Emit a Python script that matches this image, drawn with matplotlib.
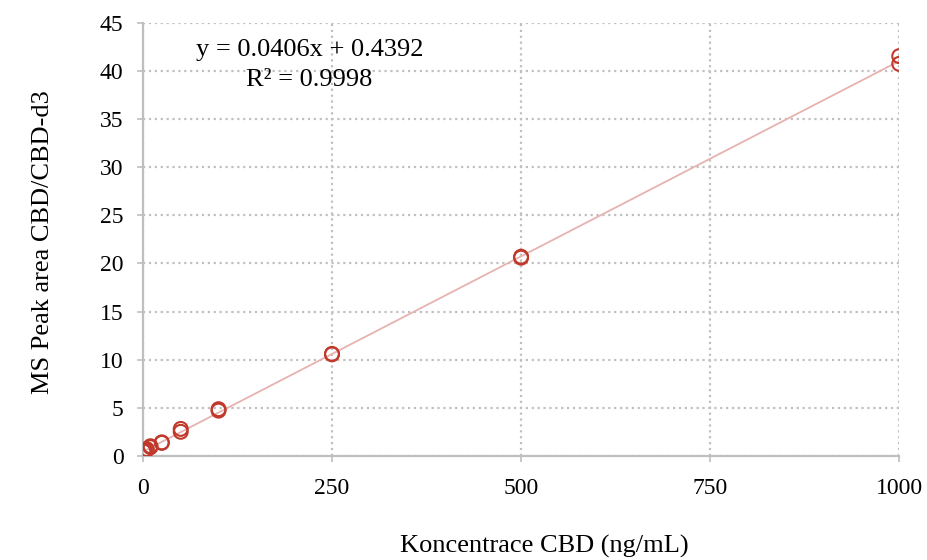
import numpy as np
import matplotlib; matplotlib.use('Agg'); import matplotlib.pyplot as plt

plt.rcParams['font.family'] = ['Liberation Serif', 'DejaVu Serif']

conc = [1, 1, 2.5, 5, 5, 10, 10, 25, 25, 50, 50, 100, 100, 250, 250, 500, 500, 1000, 1000]
ratio = [0.45, 0.5, 0.55, 0.6, 0.7, 0.9, 1.0, 1.35, 1.4, 2.5, 2.8, 4.7, 4.85, 10.6, 10.55, 20.7, 20.6, 40.75, 41.55]
slope, icpt = 0.0406, 0.4392
xticks = [0, 250, 500, 750, 1000]
yticks = list(range(0, 50, 5))

fig = plt.figure(figsize=(9.28, 5.6), dpi=100)
ax = fig.add_axes([0.154, 0.186, 0.815, 0.773])
xx = np.array([0, 1000])
ax.plot(xx, slope*xx + icpt, color='#e6b3b0', lw=1.3, zorder=2)
ax.scatter(conc, ratio, s=100, facecolors='none', edgecolors='#c0392b', linewidths=1.5, zorder=3)
ax.set_xlim(0, 1000); ax.set_ylim(0, 45)
ax.set_xticks(xticks); ax.set_yticks(yticks)
ax.grid(True, ls=':', color='#c0c0c0', lw=1.6)
ax.set_axisbelow(True)
for s in ('top', 'right'): ax.spines[s].set_visible(False)
for s in ('left', 'bottom'): ax.spines[s].set_color('#bfbfbf'); ax.spines[s].set_linewidth(1.6)
ax.tick_params(colors='#bfbfbf', labelcolor='black', labelsize=17, length=4, width=1.2)
ax.yaxis.set_tick_params(pad=10)
ax.xaxis.set_tick_params(pad=12)
fig.text(0.587, 0.024, 'Koncentrace CBD (ng/mL)', ha='center', va='center', fontsize=19)
fig.text(0.046, 0.568, 'MS Peak area CBD/CBD-d3', ha='center', va='center', rotation=90, fontsize=19)
ax.text(0.22, 0.938, 'y = 0.0406x + 0.4392', transform=ax.transAxes, ha='center', va='center', fontsize=19)
ax.text(0.22, 0.868, 'R² = 0.9998', transform=ax.transAxes, ha='center', va='center', fontsize=19)
plt.savefig('out.png', dpi=100)
